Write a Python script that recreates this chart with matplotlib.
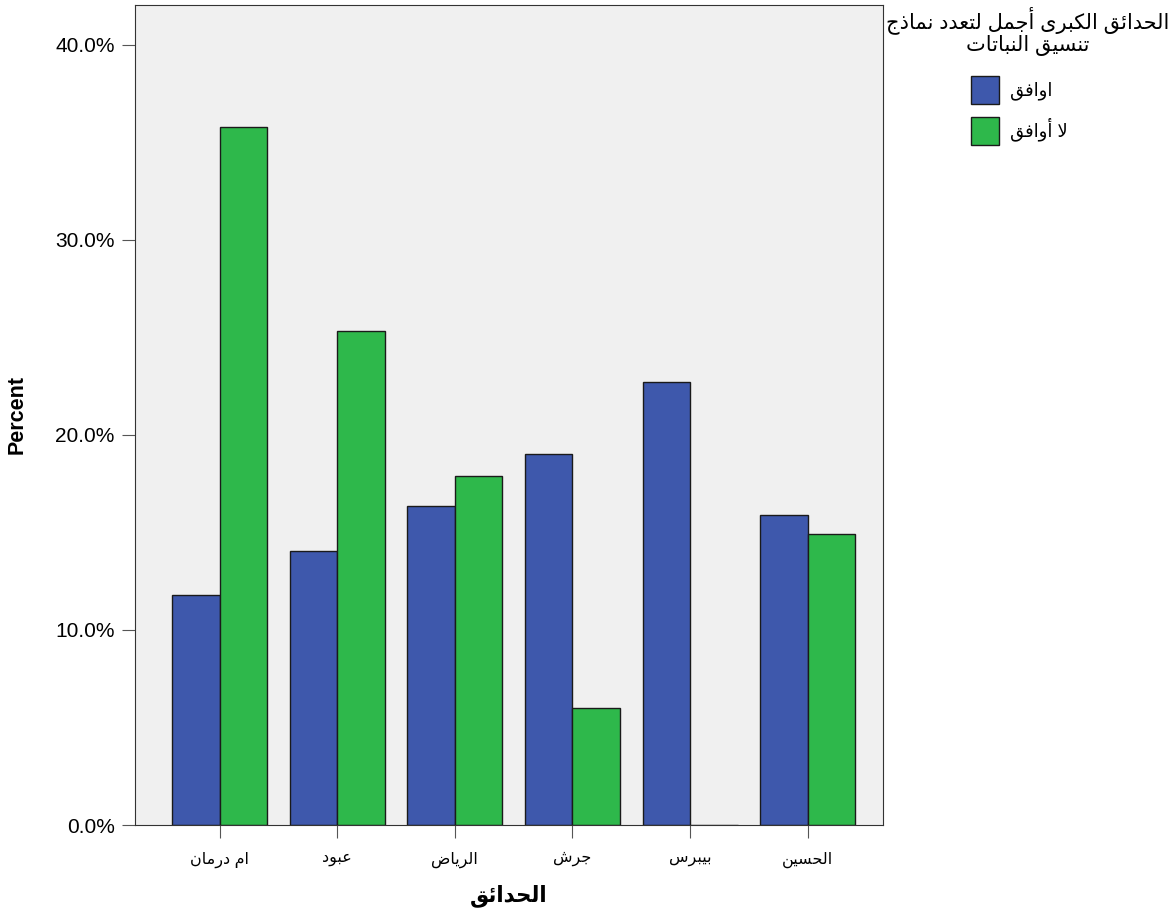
import numpy as np
import matplotlib
matplotlib.use('Agg')
import matplotlib.pyplot as plt
from matplotlib.ticker import FuncFormatter

parks = ['ام درمان', 'عبود', 'الرياض', 'جرش', 'بيبرس', 'الحسين']
agree = [11.8, 14.05, 16.35, 19.05, 22.7, 15.9]
disagree = [35.8, 25.35, 17.9, 6.0, 0.0, 14.9]
series_names = ['اوافق', 'لا أوافق']
legend_title = ['الحدائق الكبرى أجمل لتعدد نماذج', 'تنسيق النباتات']
x_title = 'الحدائق'
y_ticks = [0, 10, 20, 30, 40]


# matplotlib has no arabic shaping, so pick presentation forms by hand and
# reverse the string for display
FORMS4 = {'ئ': 0xFE89, 'ب': 0xFE8F, 'ت': 0xFE95, 'ث': 0xFE99, 'ج': 0xFE9D,
          'ح': 0xFEA1, 'خ': 0xFEA5, 'س': 0xFEB1, 'ش': 0xFEB5, 'ص': 0xFEB9,
          'ض': 0xFEBD, 'ط': 0xFEC1, 'ظ': 0xFEC5, 'ع': 0xFEC9, 'غ': 0xFECD,
          'ف': 0xFED1, 'ق': 0xFED5, 'ك': 0xFED9, 'ل': 0xFEDD, 'م': 0xFEE1,
          'ن': 0xFEE5, 'ه': 0xFEE9, 'ي': 0xFEF1}
FORMS2 = {'آ': 0xFE81, 'أ': 0xFE83, 'ؤ': 0xFE85, 'إ': 0xFE87, 'ا': 0xFE8D,
          'ة': 0xFE93, 'د': 0xFEA9, 'ذ': 0xFEAB, 'ر': 0xFEAD, 'ز': 0xFEAF,
          'و': 0xFEED, 'ى': 0xFEEF}
LAMALEF = {'آ': 0xFEF5, 'أ': 0xFEF7, 'إ': 0xFEF9, 'ا': 0xFEFB}


def shape(text):
    chars = []
    i = 0
    while i < len(text):
        c = text[i]
        if c == 'ل' and i + 1 < len(text) and text[i + 1] in LAMALEF:
            chars.append(('LA', text[i + 1]))
            i += 2
        else:
            chars.append((c, None))
            i += 1

    def dual(item):
        return item[0] in FORMS4

    def joins(item):
        return item[0] in FORMS4 or item[0] in FORMS2 or item[0] == 'LA'

    out = []
    for k, item in enumerate(chars):
        prev_ok = k > 0 and dual(chars[k - 1]) and joins(item)
        next_ok = k + 1 < len(chars) and dual(item) and joins(chars[k + 1])
        c = item[0]
        if c == 'LA':
            out.append(chr(LAMALEF[item[1]] + (1 if prev_ok else 0)))
        elif c in FORMS4:
            base = FORMS4[c]
            if prev_ok and next_ok:
                out.append(chr(base + 3))
            elif next_ok:
                out.append(chr(base + 2))
            elif prev_ok:
                out.append(chr(base + 1))
            else:
                out.append(chr(base))
        elif c in FORMS2:
            out.append(chr(FORMS2[c] + (1 if prev_ok else 0)))
        else:
            out.append(c)
    return ''.join(out)[::-1]


fonts = ['Liberation Sans', 'DejaVu Sans']
plt.rcParams['font.family'] = fonts

fig = plt.figure(figsize=(11.74, 9.22), dpi=100)
ax = fig.add_axes([0.115, 0.1052, 0.637, 0.8894])
ax.set_facecolor('#f0f0f0')

x = np.arange(len(parks))
w = 0.404
ax.bar(x - w / 2, agree, w, color='#3e58ac', edgecolor='#1a1a1a', linewidth=1,
       label=shape(series_names[0]))
ax.bar(x + w / 2, disagree, w, color='#2eb84b', edgecolor='#1a1a1a', linewidth=1,
       label=shape(series_names[1]))

ax.set_xlim(-0.72, 5.64)
ax.set_ylim(0, 42.05)
ax.set_yticks(y_ticks)
ax.yaxis.set_major_formatter(FuncFormatter(lambda v, p: '%.1f%%' % v))
ax.set_xticks(x)
ax.set_xticklabels([shape(p) for p in parks], fontsize=11.5)
ax.tick_params(axis='y', labelsize=15, length=9.5, color='#555555', pad=5)
ax.tick_params(axis='x', length=9, color='#555555', pad=10)

for s in ax.spines.values():
    s.set_color('#333333')

ax.set_ylabel('Percent', fontsize=15.5, fontweight='bold', labelpad=20)
ax.set_xlabel(shape(x_title), fontsize=15.5, fontweight='bold', labelpad=12)

# legend title as separate text so the gap to the entries matches
fig.text(1028 / 1174, 1 - 20 / 922, shape(legend_title[0]), fontsize=15,
         ha='center', va='center')
fig.text(1028 / 1174, 1 - 45 / 922, shape(legend_title[1]), fontsize=15,
         ha='center', va='center')

leg = ax.legend(loc='upper left', bbox_to_anchor=(971 / 1174, 1 - 76 / 922),
                bbox_transform=fig.transFigure, borderpad=0, borderaxespad=0,
                frameon=False, fontsize=13, handlelength=1.55,
                handleheight=2.0, handletextpad=0.6, labelspacing=0.72)

fig.savefig('out.png', dpi=100)
